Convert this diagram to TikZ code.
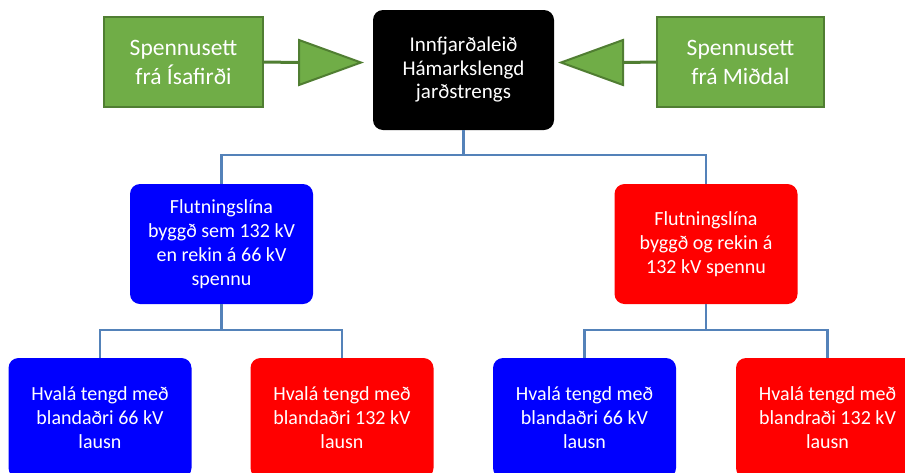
\documentclass[tikz,border=0pt]{standalone}
\usepackage{fontspec}
\setmainfont{Carlito}
\usepackage{tikz}
\usetikzlibrary{positioning, shapes.geometric}

\definecolor{grfill}{RGB}{112,173,71}
\definecolor{grline}{RGB}{80,126,50}
\definecolor{conblue}{RGB}{84,130,185}

\begin{document}
\begin{tikzpicture}[x=1pt, y=-1pt,
    box/.style={text=white, font=\fontsize{20}{24}\selectfont, align=center, inner sep=0pt},
    greenbox/.style={box, font=\fontsize{23.5}{29}\selectfont, draw=grline, fill=grfill, line width=2pt,
                     minimum width=#1, minimum height=90pt},
    roundbox/.style={box, fill=#1, rounded corners=10pt, minimum width=183pt, minimum height=120pt},
    tri/.style={isosceles triangle, isosceles triangle stretches, draw=grline, fill=grfill,
                line width=2pt, minimum width=45pt, minimum height=62pt, inner sep=0pt},
    conn/.style={draw=conblue, line width=2.5pt},
    feed/.style={draw=grline, line width=3pt}]
    \useasboundingbox (0,0) rectangle (905,472);
    \clip (0,0) rectangle (905,472);

    % top row
    \node[greenbox=159pt] (isaf) at (183.5,62) {Spennusett\\frá Ísafirði};
    \node[box, font=\fontsize{21}{23.5}\selectfont, fill=black, rounded corners=10pt,
          minimum width=181pt, minimum height=120pt] (top) at (463.5,70)
        {Innfjarðaleið\\Hámarkslengd\\jarðstrengs};
    \node[greenbox=167pt] (midal) at (740.5,62) {Spennusett\\frá Miðdal};
    \node[tri, anchor=lower side] (triL) at (298,62.5) {};
    \node[tri, shape border rotate=180, anchor=lower side] (triR) at (624,62.5) {};
    \draw[feed] (isaf.east) -- (triL.lower side);
    \draw[feed] (midal.west) -- (triR.lower side);

    % middle row
    \node[roundbox=blue] (lineA) at (221.5,244) {Flutningslína\\byggð sem 132 kV\\en rekin á 66 kV\\spennu};
    \node[roundbox=red] (lineB) at (706,244) {Flutningslína\\byggð og rekin á\\132 kV spennu};
    \draw[conn] (top.south) -- ++(0,25) -| (lineA.north);
    \draw[conn] (top.south) -- ++(0,25) -| (lineB.north);

    % bottom row
    \node[roundbox=blue] (hvA) at (100,418) {Hvalá tengd með\\blandaðri 66 kV\\lausn};
    \node[roundbox=red] (hvB) at (342,418) {Hvalá tengd með\\blandaðri 132 kV\\lausn};
    \node[roundbox=blue] (hvC) at (584.5,418) {Hvalá tengd með\\blandaðri 66 kV\\lausn};
    \node[roundbox=red] (hvD) at (827.5,418) {Hvalá tengd með\\blandraði 132 kV\\lausn};
    \draw[conn] (lineA.south) -- ++(0,26) -| (hvA.north);
    \draw[conn] (lineA.south) -- ++(0,26) -| (hvB.north);
    \draw[conn] (lineB.south) -- ++(0,26) -| (hvC.north);
    \draw[conn] (lineB.south) -- ++(0,26) -| (hvD.north);
\end{tikzpicture}
\end{document}
